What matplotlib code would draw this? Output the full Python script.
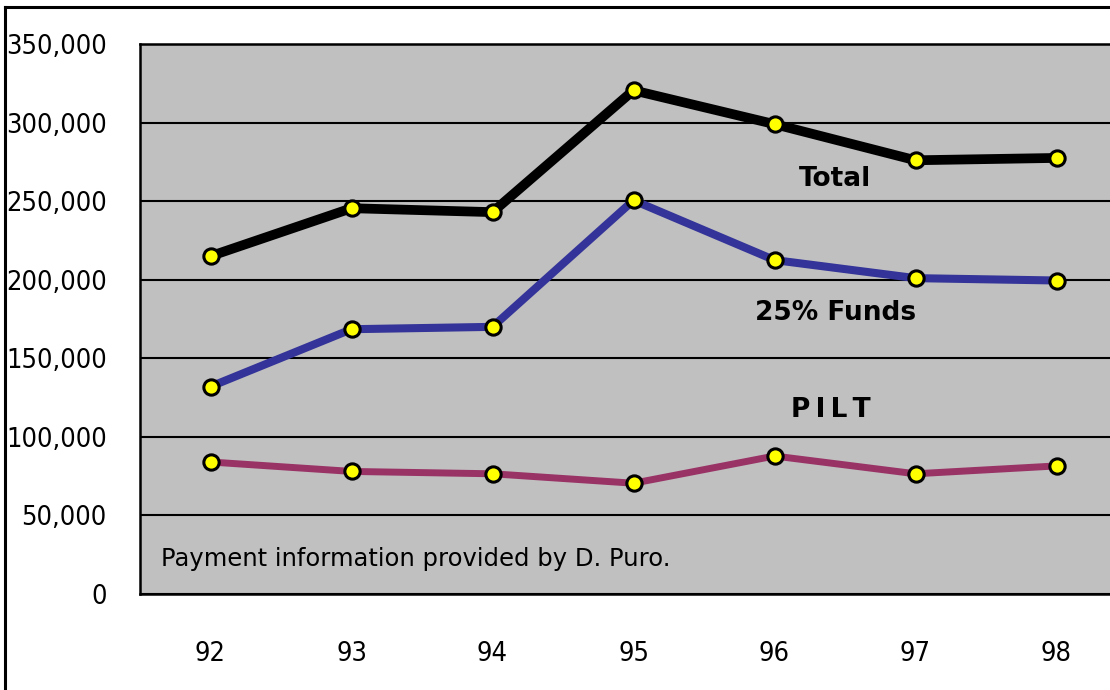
import matplotlib.pyplot as plt
from matplotlib.lines import Line2D
from matplotlib.ticker import FuncFormatter

# ── Datos ────────────────────────────────────────────────────────────────────
years = ["92", "93", "94", "95", "96", "97", "98"]
total = [215000, 245500, 243000, 320500, 299000, 276000, 277500]
funds_25 = [132000, 168500, 170000, 250500, 212500, 201000, 199500]
pilt = [84000, 78000, 76500, 70500, 87800, 76500, 81500]

y_ticks = [0, 50000, 100000, 150000, 200000, 250000, 300000, 350000]

fig = plt.figure(figsize=(11.1, 6.9), dpi=100)
ax = fig.add_axes([140 / 1110, 96 / 690, 987 / 1110, 550 / 690])
ax.set_facecolor("#c0c0c0")

x = list(range(len(years)))
marker_kw = dict(marker="o", markersize=11, markerfacecolor="#ffff00",
                 markeredgecolor="black", markeredgewidth=2.2)
ax.plot(x, pilt, color="#993366", linewidth=5, zorder=3, **marker_kw)
ax.plot(x, funds_25, color="#333399", linewidth=5.8, zorder=4, **marker_kw)
ax.plot(x, total, color="black", linewidth=7, zorder=5, **marker_kw)

ax.set_xlim(-0.5, 6.5)
ax.set_ylim(0, 350000)
ax.set_xticks(x)
ax.set_xticklabels(years)
ax.set_yticks(y_ticks)
ax.yaxis.set_major_formatter(FuncFormatter(lambda v, p: f"{int(v):,}"))
ax.tick_params(axis="both", length=0, labelsize=19.5)
ax.tick_params(axis="y", pad=24)
ax.tick_params(axis="x", pad=34)
for lab in ax.get_xticklabels() + ax.get_yticklabels():
    lab.set_family("DejaVu Sans")
    lab.set_stretch("condensed")

ax.grid(axis="y", color="black", linewidth=1.5)
ax.set_axisbelow(True)
for side in ["left", "top", "bottom", "right"]:
    ax.spines[side].set_linewidth(1.8)

# Etiquetas de series
lab_kw = dict(fontsize=19, fontweight="bold", ha="center", va="center",
              family="DejaVu Sans", zorder=6)
ax.text(4.43, 264000, "Total", **lab_kw)
ax.text(4.43, 179000, "25% Funds", **lab_kw)
ax.text(4.4, 117000, "P\u2009I\u2009L\u2009T", **lab_kw)

ax.text(-0.35, 22500, "Payment information provided by D. Puro.",
        fontsize=17.5, ha="left", va="center", family="DejaVu Sans", zorder=6)

# Marco exterior
fig.add_artist(Line2D([5 / 1110, 5 / 1110], [0, 1 - 7 / 690],
                      transform=fig.transFigure, color="black", linewidth=2.2))
fig.add_artist(Line2D([5 / 1110, 1.0], [1 - 7 / 690, 1 - 7 / 690],
                      transform=fig.transFigure, color="black", linewidth=2.2))

fig.savefig("out.png", dpi=100)
